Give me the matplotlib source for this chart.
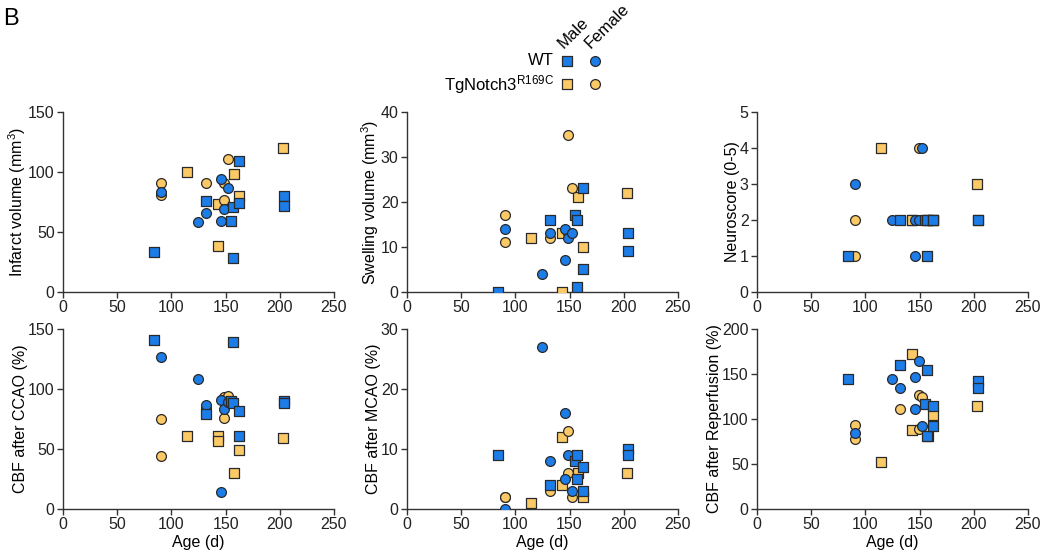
import matplotlib.pyplot as plt

plt.rcParams.update({
    'font.family': ['Liberation Sans', 'DejaVu Sans'],
    'mathtext.fontset': 'custom',
    'mathtext.rm': 'Liberation Sans',
    'mathtext.it': 'Liberation Sans:italic',
    'font.size': 11.5,
    'axes.edgecolor': '#333333',
    'axes.linewidth': 1.0,
    'xtick.color': '#333333',
    'ytick.color': '#333333',
    'xtick.labelcolor': '#222222',
    'ytick.labelcolor': '#222222',
    'xtick.labelsize': 11.5,
    'ytick.labelsize': 11.5,
})

# ages (days) per group
wt_male_age = [84, 132, 155, 157, 157, 162, 162, 204, 204]
wt_female_age = [90, 125, 132, 146, 146, 149, 152]
tg_male_age = [114, 143, 143, 158, 162, 203]
tg_female_age = [90, 90, 132, 149, 149, 152]

# infarct volume (mm3)
infarct_wt_m = [33, 76, 59, 71, 28, 109, 74, 80, 72]
infarct_wt_f = [83, 58, 66, 94, 59, 69, 87]
infarct_tg_m = [100, 73, 38, 98, 80, 120]
infarct_tg_f = [91, 81, 91, 91, 77, 111]

# swelling volume (mm3)
swell_wt_m = [0, 16, 17, 16, 1, 23, 5, 13, 9]
swell_wt_f = [14, 4, 13, 14, 7, 12, 13]
swell_tg_m = [12, 13, 0, 21, 10, 22]
swell_tg_f = [17, 11, 12, 35, 13, 23]

# neuroscore
neuro_wt_m = [1, 2, 2, 1, 2, 2, 2, 2, 2]
neuro_wt_f = [3, 2, 2, 1, 2, 2, 4]
neuro_tg_m = [4, 2, 2, 2, 2, 3]
neuro_tg_f = [1, 2, 2, 4, 2, 2]

# CBF after CCAO (%)
ccao_wt_m = [141, 79, 90, 139, 88, 82, 61, 90, 88]
ccao_wt_f = [127, 108, 87, 91, 14, 83, 89]
ccao_tg_m = [61, 61, 57, 30, 49, 59]
ccao_tg_f = [75, 44, 84, 93, 76, 94]

# CBF after MCAO (%)
mcao_wt_m = [9, 4, 8, 9, 5, 7, 3, 10, 9]
mcao_wt_f = [0, 27, 8, 16, 5, 9, 3]
mcao_tg_m = [1, 12, 4, 6, 2, 6]
mcao_tg_f = [2, 2, 3, 13, 6, 2]

# CBF after reperfusion (%)
rep_wt_m = [145, 160, 117, 155, 81, 115, 92, 142, 135]
rep_wt_f = [84, 144, 135, 147, 111, 165, 92]
rep_tg_m = [52, 172, 88, 81, 105, 115]
rep_tg_f = [93, 78, 111, 127, 89, 125]

blue = '#1C7CE8'
orange = '#FBC965'
edge = '#2a2a2a'
ms = 50

panels = [
    ('Infarct volume (mm$^3$)', 150, 50, (infarct_wt_m, infarct_wt_f, infarct_tg_m, infarct_tg_f)),
    ('Swelling volume (mm$^3$)', 40, 10, (swell_wt_m, swell_wt_f, swell_tg_m, swell_tg_f)),
    ('Neuroscore (0-5)', 5, 1, (neuro_wt_m, neuro_wt_f, neuro_tg_m, neuro_tg_f)),
    ('CBF after CCAO (%)', 150, 50, (ccao_wt_m, ccao_wt_f, ccao_tg_m, ccao_tg_f)),
    ('CBF after MCAO (%)', 30, 10, (mcao_wt_m, mcao_wt_f, mcao_tg_m, mcao_tg_f)),
    ('CBF after Reperfusion (%)', 200, 50, (rep_wt_m, rep_wt_f, rep_tg_m, rep_tg_f)),
]

fig = plt.figure(figsize=(10.43, 5.57), dpi=100)

lefts = [0.0604, 0.3902, 0.7258]
bottoms = [0.4758, 0.0862]
w, h = 0.2598, 0.3231

for i, (label, ymax, ystep, (wm, wf, tm, tf)) in enumerate(panels):
    ax = fig.add_axes([lefts[i % 3], bottoms[i // 3], w, h])
    ax.scatter(tg_male_age, tm, s=ms, marker='s', c=orange, edgecolors=edge, linewidths=0.9, zorder=3)
    ax.scatter(tg_female_age, tf, s=ms, marker='o', c=orange, edgecolors=edge, linewidths=0.9, zorder=3)
    ax.scatter(wt_female_age, wf, s=ms, marker='o', c=blue, edgecolors=edge, linewidths=0.9, zorder=4)
    ax.scatter(wt_male_age, wm, s=ms, marker='s', c=blue, edgecolors=edge, linewidths=0.9, zorder=4)
    ax.set_xlim(0, 250)
    ax.set_ylim(0, ymax)
    ax.set_xticks(range(0, 251, 50))
    ax.set_yticks(range(0, ymax + 1, ystep))
    ax.spines['top'].set_visible(False)
    ax.spines['right'].set_visible(False)
    ax.tick_params(length=4, width=1, pad=2)
    ax.set_ylabel(label, fontsize=11.5, labelpad=0)
    for sp in ax.spines.values():
        sp.set_clip_on(False)
    if i >= 3:
        ax.set_xlabel('Age (d)', fontsize=11.5, labelpad=2)

fig.text(0.003, 0.985, 'B', fontsize=17, va='top', ha='left')

# legend
fig.text(0.531, 0.891, 'WT', fontsize=12, ha='right', va='center')
fig.text(0.531, 0.849, 'TgNotch3$^{\\mathrm{R169C}}$', fontsize=12, ha='right', va='center')
lax = fig.add_axes([0, 0, 1, 1], facecolor='none')
lax.set_xlim(0, 1043)
lax.set_ylim(557, 0)
lax.axis('off')
lax.scatter([567], [61], s=ms, marker='s', c=blue, edgecolors=edge, linewidths=0.9)
lax.scatter([595], [61], s=ms, marker='o', c=blue, edgecolors=edge, linewidths=0.9)
lax.scatter([567], [84], s=ms, marker='s', c=orange, edgecolors=edge, linewidths=0.9)
lax.scatter([595], [84], s=ms, marker='o', c=orange, edgecolors=edge, linewidths=0.9)
fig.text(0.540, 0.912, 'Male', fontsize=12, rotation=45, rotation_mode='anchor',
         ha='left', va='baseline')
fig.text(0.566, 0.912, 'Female', fontsize=12, rotation=45, rotation_mode='anchor',
         ha='left', va='baseline')

fig.savefig('out.png', dpi=100)
